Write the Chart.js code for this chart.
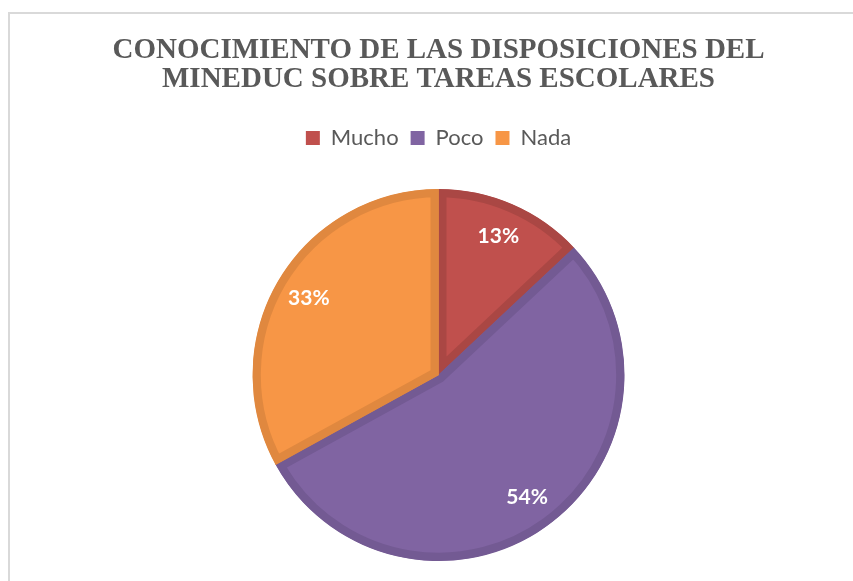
<!DOCTYPE html>
<html>
<head>
<meta charset="utf-8">
<script src="https://cdn.jsdelivr.net/npm/chart.js@4.4.1/dist/chart.umd.min.js"></script>
<style>
html, body { margin: 0; padding: 0; background: #fff; overflow: hidden; }
#frame { position: absolute; left: 8px; top: 12px; width: 845px; height: 569px;
         border-left: 2px solid #d9d9d9; border-top: 2px solid #d9d9d9; }
#c { position: absolute; left: 0; top: 0; }
</style>
</head>
<body>
<div id="frame"></div>
<canvas id="c" width="853" height="600"></canvas>
<script>
// datos del grafico
var categories = ["Mucho", "Poco", "Nada"];
var percentages = [13, 54, 33];
var fillColors = ["#C0504D", "#8064A2", "#F79646"];
var edgeColors = ["#AA4744", "#735A93", "#E0883F"];
var titleLines = ["CONOCIMIENTO DE LAS DISPOSICIONES DEL", "MINEDUC SOBRE TAREAS ESCOLARES"];

// etiquetas de porcentaje dentro de cada sector
var sliceLabels = {
    id: "sliceLabels",
    afterDatasetsDraw: function (chart) {
        var ctx = chart.ctx;
        var meta = chart.getDatasetMeta(0);
        ctx.save();
        ctx.fillStyle = "#ffffff";
        ctx.font = "bold 21px Lato";
        ctx.textAlign = "center";
        ctx.textBaseline = "middle";
        meta.data.forEach(function (arc, i) {
            var p = arc.getProps(["x", "y", "startAngle", "endAngle", "outerRadius"], true);
            var mid = (p.startAngle + p.endAngle) / 2;
            var r = p.outerRadius * 0.81;
            ctx.fillText(percentages[i] + "%", p.x + Math.cos(mid) * r, p.y + Math.sin(mid) * r);
        });
        ctx.restore();
    }
};

var ctx = document.getElementById("c").getContext("2d");
var chart = new Chart(ctx, {
    type: "pie",
    data: {
        labels: categories,
        datasets: [{
            data: percentages,
            backgroundColor: fillColors,
            borderColor: edgeColors,
            borderWidth: 8,
            borderAlign: "inner"
        }]
    },
    options: {
        responsive: false,
        animation: false,
        radius: 186,
        layout: { padding: { left: 24, right: 0, top: 0, bottom: 9 } },
        plugins: {
            title: {
                display: true,
                text: titleLines,
                color: "#595959",
                font: { family: "'Liberation Serif'", size: 29, weight: "bold", lineHeight: 1.0 },
                padding: { top: 36, bottom: 21 }
            },
            legend: {
                display: true,
                position: "top",
                labels: {
                    color: "#595959",
                    font: { family: "Lato", size: 22 },
                    boxWidth: 14,
                    boxHeight: 14,
                    padding: 12,
                    generateLabels: function (chart) {
                        var items = Chart.controllers.pie.overrides.plugins.legend.labels.generateLabels(chart);
                        items.forEach(function (it) { it.lineWidth = 0; it.strokeStyle = it.fillStyle; });
                        return items;
                    }
                }
            },
            tooltip: { enabled: false }
        }
    },
    plugins: [sliceLabels]
});
</script>
</body>
</html>
